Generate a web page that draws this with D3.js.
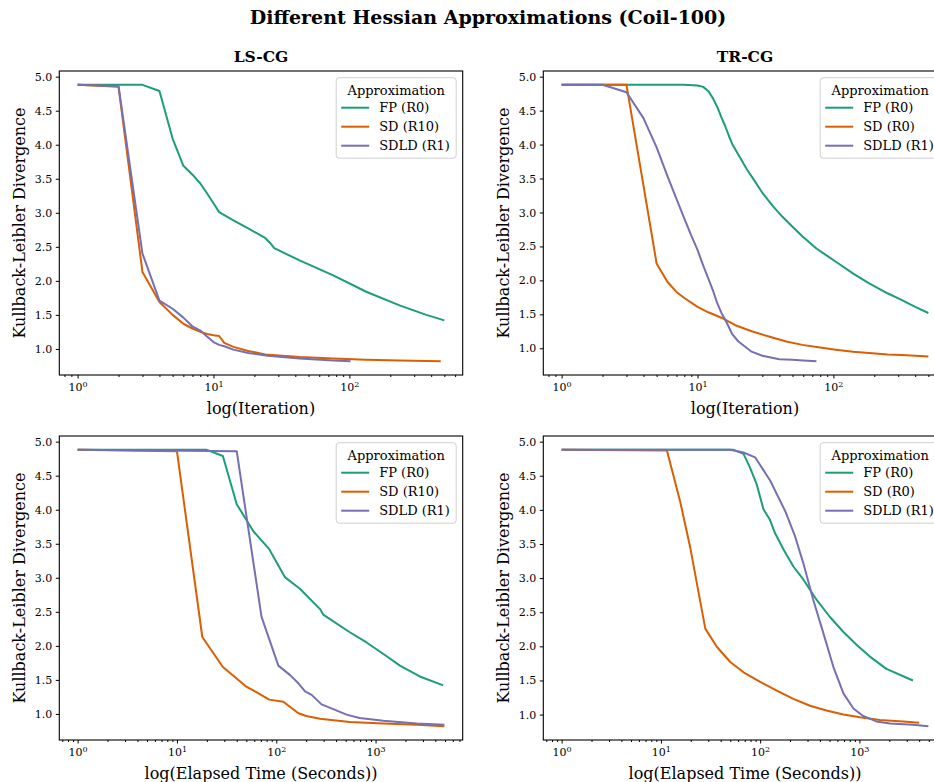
<!DOCTYPE html>
<html>
<head>
<meta charset="utf-8">
<title>Different Hessian Approximations (Coil-100)</title>
<script src="https://cdn.jsdelivr.net/npm/d3@7"></script>
<style>
    body { margin: 0; background: #fff; }
    svg { font-family: "DejaVu Serif", serif; }
    .tick line { stroke: #000; }
    .tick text { fill: #000; font-size: 11px; font-family: "DejaVu Serif", serif; }
</style>
</head>
<body>
<script>

// series labels for each solver
var lsNames = ["FP (R0)", "SD (R10)", "SDLD (R1)"];
var trNames = ["FP (R0)", "SD (R0)", "SDLD (R1)"];
var colors = ["#1b9e77", "#d95f02", "#7570b3"];
var yTicks = [1.0, 1.5, 2.0, 2.5, 3.0, 3.5, 4.0, 4.5, 5.0];

// LS-CG, x = iteration
var lsIterFP = [[1,4.88],[2,4.88],[3,4.88],[4,4.79],[5,4.09],[6,3.69],[7,3.56],[8,3.43],[9,3.28],[10,3.14],[11,3.01],[14,2.89],[18,2.77],[24,2.63],[26,2.56],[28,2.48],[43,2.30],[76,2.08],[133,1.84],[234,1.64],[368,1.50],[500,1.42]];
var lsIterSD = [[1,4.88],[2,4.85],[3,2.13],[4,1.69],[5,1.50],[6,1.37],[7,1.30],[8,1.25],[9,1.22],[10,1.20],[11,1.19],[12,1.09],[14,1.03],[18,0.97],[24,0.92],[43,0.88],[76,0.86],[133,0.84],[234,0.83],[470,0.82]];
var lsIterSDLD = [[1,4.88],[2,4.86],[3,2.40],[4,1.71],[5,1.59],[6,1.46],[7,1.33],[8,1.27],[9,1.18],[10,1.10],[11,1.06],[12,1.04],[14,0.99],[18,0.94],[25,0.90],[43,0.86],[76,0.83],[102,0.82]];

// TR-CG, x = iteration
var trIterFP = [[1,4.88],[2,4.88],[3,4.88],[5,4.88],[8,4.88],[10,4.87],[11,4.85],[12,4.79],[13,4.68],[14,4.55],[15,4.40],[16,4.27],[17,4.13],[18,4.01],[20,3.85],[23,3.64],[26,3.48],[30,3.29],[36,3.09],[42,2.94],[50,2.79],[59,2.65],[75,2.47],[90,2.36],[105,2.27],[140,2.10],[182,1.96],[250,1.81],[320,1.71],[400,1.61],[500,1.52]];
var trIterSD = [[1,4.88],[2,4.88],[3,4.88],[5,2.25],[6,1.98],[7,1.83],[8,1.74],[10,1.61],[12,1.53],[15,1.45],[19,1.34],[25,1.25],[34,1.17],[45,1.10],[59,1.05],[80,1.01],[104,0.98],[140,0.95],[183,0.93],[250,0.91],[320,0.90],[500,0.88]];
var trIterSDLD = [[1,4.88],[2,4.88],[3,4.77],[4,4.39],[5,3.96],[6,3.54],[7,3.20],[8,2.91],[9,2.66],[10,2.45],[11,2.22],[12,2.03],[13,1.85],[14,1.66],[15,1.52],[16,1.42],[18,1.21],[20,1.10],[25,0.95],[30,0.89],[40,0.84],[50,0.83],[60,0.82],[75,0.81]];

// LS-CG, x = elapsed seconds
var lsTimeFP = [[1,4.88],[20,4.88],[29,4.79],[40,4.08],[59,3.68],[85,3.42],[122,3.01],[173,2.84],[276,2.54],[297,2.46],[550,2.20],[812,2.05],[1200,1.88],[1760,1.71],[2790,1.55],[4800,1.42]];
var lsTimeSD = [[1,4.88],[10,4.86],[18,2.13],[29,1.69],[37,1.56],[50,1.40],[63,1.32],[85,1.21],[118,1.18],[167,1.01],[200,0.97],[276,0.93],[550,0.88],[1200,0.86],[2600,0.84],[4930,0.82]];
var lsTimeSDLD = [[1,4.88],[40,4.86],[71,2.43],[105,1.71],[138,1.57],[167,1.45],[195,1.33],[227,1.28],[286,1.14],[375,1.07],[510,0.99],[690,0.94],[1200,0.90],[2600,0.86],[4930,0.84]];

// TR-CG, x = elapsed seconds
var trTimeFP = [[1,4.88],[54,4.88],[68,4.82],[79,4.62],[92,4.38],[108,4.01],[125,3.86],[141,3.66],[172,3.42],[216,3.17],[272,2.98],[371,2.68],[505,2.43],[690,2.21],[940,2.02],[1275,1.85],[1870,1.67],[3460,1.50]];
var trTimeSD = [[1,4.88],[11.5,4.87],[15.7,4.11],[19.8,3.44],[28,2.26],[36.7,1.99],[50,1.77],[68,1.62],[100,1.48],[147,1.35],[216,1.23],[318,1.13],[466,1.06],[690,1.00],[1010,0.96],[1607,0.92],[2760,0.90],[4000,0.88]];
var trTimeSDLD = [[1,4.88],[50,4.88],[68,4.84],[89,4.77],[126,4.43],[179,3.98],[225,3.61],[272,3.22],[343,2.68],[434,2.19],[546,1.70],[690,1.31],[870,1.09],[1090,0.98],[1480,0.90],[2040,0.87],[3460,0.85],[4950,0.83]];

var W = 934, H = 782;
var panelW = 403.4, panelH = 304;

var panels = [
    { left: 59.3,  top: 71,  title: "LS-CG", xlabel: "log(Iteration)", names: lsNames, series: [lsIterFP, lsIterSD, lsIterSDLD] },
    { left: 543.3, top: 71,  title: "TR-CG", xlabel: "log(Iteration)", names: trNames, series: [trIterFP, trIterSD, trIterSDLD] },
    { left: 59.3,  top: 436, title: null, xlabel: "log(Elapsed Time (Seconds))", names: lsNames, series: [lsTimeFP, lsTimeSD, lsTimeSDLD] },
    { left: 543.3, top: 436, title: null, xlabel: "log(Elapsed Time (Seconds))", names: trNames, series: [trTimeFP, trTimeSD, trTimeSDLD] }
];

var svg = d3.select("body").append("svg")
    .attr("width", W)
    .attr("height", H);

svg.append("text")
    .attr("x", 488)
    .attr("y", 24)
    .attr("text-anchor", "middle")
    .attr("font-weight", "bold")
    .attr("font-size", "19px")
    .text("Different Hessian Approximations (Coil-100)");

// matplotlib style 5% margins (in log space for x)
function logDomain(xs) {
    var lo = Math.log10(d3.min(xs)), hi = Math.log10(d3.max(xs)), m = (hi - lo) * 0.05;
    return [Math.pow(10, lo - m), Math.pow(10, hi + m)];
}
function linDomain(ys) {
    var lo = d3.min(ys), hi = d3.max(ys), m = (hi - lo) * 0.05;
    return [lo - m, hi + m];
}

panels.forEach(function(p) {
    var all = d3.merge(p.series);
    var x = d3.scaleLog().domain(logDomain(all.map(function(d) { return d[0]; }))).range([0, panelW]);
    var y = d3.scaleLinear().domain(linDomain(all.map(function(d) { return d[1]; }))).range([panelH, 0]);

    var g = svg.append("g").attr("transform", "translate(" + p.left + "," + p.top + ")");

    // ticks
    var dom = x.domain();
    var majors = [], minors = [];
    for (var e = Math.floor(Math.log10(dom[0])); e <= Math.ceil(Math.log10(dom[1])); e++) {
        for (var k = 1; k < 10; k++) {
            var v = k * Math.pow(10, e);
            if (v < dom[0] || v > dom[1]) continue;
            if (k == 1) majors.push(v); else minors.push(v);
        }
    }

    g.append("g")
        .attr("transform", "translate(0," + panelH + ")")
        .call(d3.axisBottom(x).tickValues(minors).tickSize(2).tickFormat(""))
        .call(function(a) { a.select(".domain").remove(); });

    var gx = g.append("g")
        .attr("transform", "translate(0," + panelH + ")")
        .call(d3.axisBottom(x).tickValues(majors).tickSize(3.5).tickPadding(4.5).tickFormat(function() { return "10"; }));
    gx.select(".domain").remove();
    gx.selectAll(".tick text").each(function(d) {
        d3.select(this).append("tspan")
            .attr("dy", "-0.45em")
            .attr("font-size", "8px")
            .text(Math.round(Math.log10(d)));
    });

    var gy = g.append("g")
        .call(d3.axisLeft(y).tickValues(yTicks).tickSize(3.5).tickPadding(3.5).tickFormat(d3.format(".1f")));
    gy.select(".domain").remove();

    // lines
    var line = d3.line()
        .x(function(d) { return x(d[0]); })
        .y(function(d) { return y(d[1]); });

    p.series.forEach(function(s, i) {
        g.append("path")
            .datum(s)
            .attr("fill", "none")
            .attr("stroke", colors[i])
            .attr("stroke-width", 2)
            .attr("stroke-linejoin", "round")
            .attr("d", line);
    });

    // frame
    g.append("rect")
        .attr("width", panelW)
        .attr("height", panelH)
        .attr("fill", "none")
        .attr("stroke", "#000")
        .attr("stroke-width", 1.1);

    // labels
    if (p.title) {
        g.append("text")
            .attr("x", panelW / 2)
            .attr("y", -9)
            .attr("text-anchor", "middle")
            .attr("font-weight", "bold")
            .attr("font-size", "15.5px")
            .text(p.title);
    }
    g.append("text")
        .attr("x", panelW / 2)
        .attr("y", panelH + 39)
        .attr("text-anchor", "middle")
        .attr("font-size", "16px")
        .text(p.xlabel);
    g.append("text")
        .attr("transform", "translate(-34," + (panelH / 2) + ") rotate(-90)")
        .attr("text-anchor", "middle")
        .attr("font-size", "16px")
        .text("Kullback-Leibler Divergence");

    // legend
    var lg = g.append("g").attr("transform", "translate(" + (panelW - 126.5) + ",6.7)");
    lg.append("rect")
        .attr("width", 120)
        .attr("height", 80.5)
        .attr("rx", 3)
        .attr("fill", "#fff")
        .attr("fill-opacity", 0.8)
        .attr("stroke", "#d0d0d0");
    lg.append("text")
        .attr("x", 60)
        .attr("y", 17)
        .attr("text-anchor", "middle")
        .attr("font-size", "13px")
        .text("Approximation");
    p.names.forEach(function(n, i) {
        var yy = 30 + i * 19;
        lg.append("line")
            .attr("x1", 5).attr("x2", 33)
            .attr("y1", yy).attr("y2", yy)
            .attr("stroke", colors[i])
            .attr("stroke-width", 2);
        lg.append("text")
            .attr("x", 43)
            .attr("y", yy + 4.5)
            .attr("font-size", "13px")
            .text(n);
    });
});

</script>
</body>
</html>
